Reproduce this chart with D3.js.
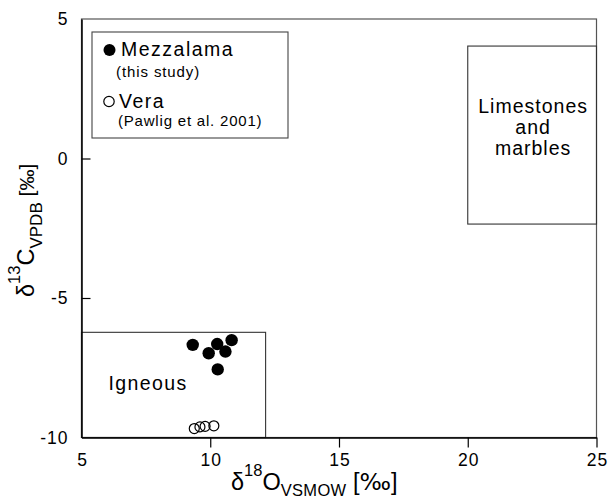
<!DOCTYPE html>
<html>
<head>
<meta charset="utf-8">
<script src="https://cdn.jsdelivr.net/npm/d3@7"></script>
<style>
  html, body { margin: 0; padding: 0; background: #fff; }
  svg { display: block; font-family: "Liberation Sans", Arial, Helvetica, sans-serif; }
</style>
</head>
<body>
<script>
// ---- data ----
const mezzalamaX = [9.32, 9.94, 10.27, 10.83, 10.59, 10.29];
const mezzalamaY = [-6.68, -6.98, -6.65, -6.51, -6.92, -7.56];
const veraX = [9.38, 9.60, 9.80, 10.14];
const veraY = [-9.68, -9.62, -9.60, -9.58];
const xTicks = [5, 10, 15, 20, 25];
const yTicks = [5, 0, -5, -10];
// fields: [xMin, xMax, yMin, yMax]
const igneousField = [5, 12.15, -10, -6.23];
const limestoneField = [20, 25, -2.35, 4.03];
const igneousLabel = ["Igneous"];
const limestoneLabel = ["Limestones", "and", "marbles"];

const W = 608, H = 501;
const svg = d3.select("body").append("svg").attr("width", W).attr("height", H);

const x = d3.scaleLinear().domain([5, 25]).range([81.5, 596.5]);
const y = d3.scaleLinear().domain([-10, 5]).range([437.5, 19]);

const frameColor = "#555";
const tickFmt = d => String(d);

// frame (top/right)
svg.append("rect")
  .attr("x", x(5)).attr("y", y(5))
  .attr("width", x(25) - x(5)).attr("height", y(-10) - y(5))
  .attr("fill", "none").attr("stroke", frameColor).attr("stroke-width", 1.2);

// fields
function field(f) {
  svg.append("rect")
    .attr("x", x(f[0])).attr("y", y(f[3]))
    .attr("width", x(f[1]) - x(f[0])).attr("height", y(f[2]) - y(f[3]))
    .attr("fill", "none").attr("stroke", "#333").attr("stroke-width", 1.1);
}
field(igneousField);
field(limestoneField);

// axes
const xAxis = d3.axisBottom(x).tickValues(xTicks).tickFormat(tickFmt).tickSize(10).tickSizeOuter(0);
const gx = svg.append("g").attr("transform", `translate(0,${y(-10)})`).call(xAxis);
gx.select(".domain").attr("stroke", "#000").attr("stroke-width", 1.5);
gx.selectAll(".tick line").attr("stroke", "#000").attr("stroke-width", 1.2);
gx.selectAll(".tick text")
  .attr("font-size", 17.5).attr("font-family", "Liberation Sans, Arial, sans-serif")
  .attr("fill", "#000").attr("y", 16).attr("dy", "0.71em")
  .style("letter-spacing", "1px").attr("dx", "0.5px");

const yAxis = d3.axisLeft(y).tickValues(yTicks).tickFormat(tickFmt).tickSize(-9).tickSizeOuter(0).tickPadding(13);
const gy = svg.append("g").attr("transform", `translate(${x(5)},0)`).call(yAxis);
gy.select(".domain").attr("stroke", "#000").attr("stroke-width", 1.5);
gy.selectAll(".tick line").attr("stroke", "#000").attr("stroke-width", 1.2);
gy.selectAll(".tick text")
  .attr("font-size", 17.5).attr("font-family", "Liberation Sans, Arial, sans-serif")
  .attr("fill", "#000").style("letter-spacing", "1px");
gy.selectAll(".tick").filter(d => d === 5 || d === -10).select("line").remove();
gx.selectAll(".tick").filter(d => d === 5).select("line").remove();

// field labels
svg.append("text")
  .attr("x", x(5) + 27).attr("y", 390)
  .attr("font-size", 19.5).style("letter-spacing", "1.4px")
  .text(igneousLabel[0]);

const lsCx = (x(limestoneField[0]) + x(limestoneField[1])) / 2 + 1;
svg.append("g").selectAll("text").data(limestoneLabel).join("text")
  .attr("x", lsCx).attr("y", (d, i) => 113 + i * 21)
  .attr("text-anchor", "middle")
  .attr("font-size", 19.5).style("letter-spacing", "1px")
  .text(d => d);

// data points
svg.append("g").selectAll("circle").data(veraX.map((v, i) => [v, veraY[i]])).join("circle")
  .attr("cx", d => x(d[0])).attr("cy", d => y(d[1])).attr("r", 5)
  .attr("fill", "none").attr("stroke", "#000").attr("stroke-width", 1.2);

svg.append("g").selectAll("circle").data(mezzalamaX.map((v, i) => [v, mezzalamaY[i]])).join("circle")
  .attr("cx", d => x(d[0])).attr("cy", d => y(d[1])).attr("r", 6.2)
  .attr("fill", "#000");

// legend
const lg = svg.append("g");
lg.append("rect").attr("x", 92).attr("y", 32).attr("width", 196).attr("height", 106)
  .attr("fill", "none").attr("stroke", "#444").attr("stroke-width", 1.1);
lg.append("circle").attr("cx", 109.5).attr("cy", 50).attr("r", 6).attr("fill", "#000");
lg.append("text").attr("x", 121).attr("y", 56).attr("font-size", 19.5).style("letter-spacing", "1.5px").text("Mezzalama");
lg.append("text").attr("x", 116).attr("y", 77).attr("font-size", 15).style("letter-spacing", "0.9px").text("(this study)");
lg.append("circle").attr("cx", 109).attr("cy", 101.5).attr("r", 5.2).attr("fill", "none").attr("stroke", "#000").attr("stroke-width", 1.2);
lg.append("text").attr("x", 119).attr("y", 107.5).attr("font-size", 19.5).style("letter-spacing", "1.5px").text("Vera");
lg.append("text").attr("x", 118).attr("y", 126).attr("font-size", 15).style("letter-spacing", "0.8px").text("(Pawlig et al. 2001)");

// x axis title
const xt = svg.append("text").attr("x", 231).attr("y", 490).attr("font-size", 23.5);
xt.append("tspan").text("δ");
xt.append("tspan").attr("font-size", 16.5).attr("dy", -14).text("18");
xt.append("tspan").attr("font-size", 23.5).attr("dy", 14).text("O");
xt.append("tspan").attr("font-size", 16.5).attr("dy", 6).style("letter-spacing", "0.3px").text("VSMOW");
xt.append("tspan").attr("font-size", 23.5).attr("dy", -6).text(" [");
xt.append("tspan").attr("font-size", 23.5).attr("font-family", "DejaVu Sans, sans-serif").text("‰");
xt.append("tspan").attr("font-size", 23.5).text("]");

// y axis title
const yt = svg.append("text").attr("transform", "translate(34,297) rotate(-90)").attr("font-size", 23.5);
yt.append("tspan").text("δ");
yt.append("tspan").attr("font-size", 16.5).attr("dy", -14).text("13");
yt.append("tspan").attr("font-size", 23.5).attr("dy", 14).text("C");
yt.append("tspan").attr("font-size", 17).attr("dy", 7.5).text("VPDB");
yt.append("tspan").attr("font-size", 21).attr("dy", -7.5).text(" [‰]");
</script>
</body>
</html>
